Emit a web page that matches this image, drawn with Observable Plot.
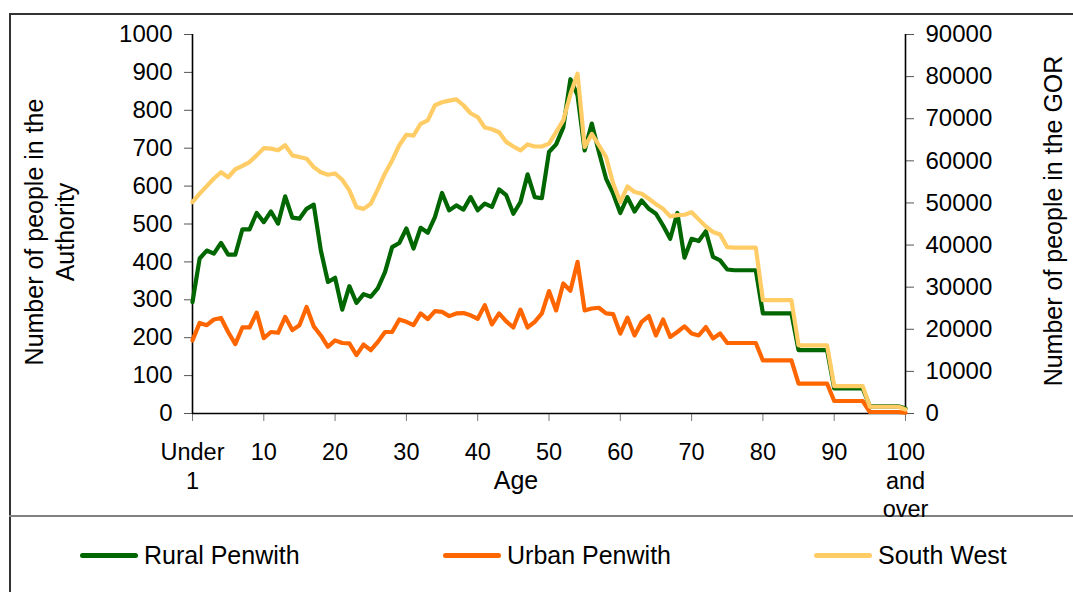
<!DOCTYPE html>
<html><head><meta charset="utf-8">
<script src="https://cdn.jsdelivr.net/npm/d3@7"></script>
<script src="https://cdn.jsdelivr.net/npm/@observablehq/plot@0.6"></script>
<style>
body{margin:0;background:#fff;font-family:"Liberation Sans",Arial,sans-serif;overflow:hidden;}
#frame{position:absolute;left:9px;top:13px;width:1100px;height:620px;border-left:2px solid #333;border-top:2px solid #333;}
#sep{position:absolute;left:9px;top:515px;width:1100px;border-top:2px solid #808080;}
#chart{position:absolute;left:0;top:0;}
#legend{position:absolute;top:0;left:0;width:1073px;height:592px;font-size:25px;color:#000;pointer-events:none;}
.item{position:absolute;top:537px;height:36px;display:flex;align-items:center;white-space:nowrap;}
.sw{display:inline-block;width:58px;height:5px;border-radius:3px;margin-right:6px;}
</style></head>
<body>
<div id="frame"></div>
<div id="sep"></div>
<div id="chart"></div>
<div id="legend"></div>
<script>
// Age categories (0 = "Under 1", 100 = "100 and over")
const ages = d3.range(0, 101);
const seriesNames = ["Rural Penwith", "Urban Penwith", "South West"];
const seriesColors = ["#006600", "#FF6600", "#FFCC66"];

// Rural Penwith (left axis)
const rural = [
 294, 409, 430, 422, 450, 419, 419, 486, 486, 529,
 505, 533, 501, 573, 517, 514, 540, 551, 430, 347,
 358, 274, 336, 292, 315, 308, 331, 373, 439, 450,
 488, 435, 490, 477, 518, 582, 536, 549, 538, 571,
 536, 554, 545, 591, 576, 527, 558, 631, 571, 568,
 690, 710, 755, 882, 840, 694, 765, 690, 620, 580,
 529, 571, 533, 562, 540, 527, 496, 461, 529, 411,
 461, 455, 481, 413, 404, 380, 378, 378, 378, 378,
 264, 264, 264, 264, 264, 167, 167, 167, 167, 167,
 66, 66, 66, 66, 66, 19, 19, 19, 19, 19,
 13];

// Urban Penwith (left axis)
const urban = [
 193, 239, 233, 248, 252, 215, 183, 227, 227, 266,
 199, 215, 213, 255, 220, 233, 281, 230, 206, 176,
 193, 186, 185, 154, 182, 167, 189, 215, 215, 248,
 242, 233, 264, 249, 270, 268, 257, 264, 265, 259,
 250, 286, 235, 264, 243, 227, 274, 227, 242, 264,
 323, 272, 343, 324, 400, 272, 277, 279, 264, 262,
 211, 253, 206, 242, 257, 206, 248, 202, 215, 230,
 211, 206, 228, 198, 211, 186, 186, 186, 186, 186,
 140, 140, 140, 140, 140, 79, 79, 79, 79, 79,
 33, 33, 33, 33, 33, 4, 4, 4, 4, 4,
 2];

// South West (right axis, GOR)
const southWest = [
 50200, 52200, 54000, 55800, 57300, 56100, 58000, 58800, 59700, 61300,
 63000, 62900, 62500, 63700, 61300, 60900, 60500, 58500, 57300, 56700,
 57000, 55500, 53000, 49000, 48600, 49800, 53300, 57000, 60100, 63700,
 66200, 66000, 68800, 69600, 73200, 73900, 74300, 74600, 73200, 71300,
 70400, 67900, 67500, 66800, 64500, 63400, 62500, 63900, 63400, 63400,
 64100, 66800, 69600, 75800, 80700, 63300, 66400, 63700, 60900, 54600,
 50200, 53900, 52600, 52200, 51000, 49700, 48600, 46800, 47100, 47200,
 47800, 46100, 44400, 43100, 42500, 39500, 39400, 39400, 39400, 39400,
 26900, 26900, 26900, 26900, 26900, 16200, 16200, 16200, 16200, 16200,
 6500, 6500, 6500, 6500, 6500, 1600, 1600, 1600, 1600, 1600,
 950];

const leftTicks = d3.range(0, 1001, 100);
const rightTicks = d3.range(0, 90001, 10000);
const xTicks = d3.range(0, 101, 10);
const ratio = 90; // right axis max 90000 vs left 1000

const table = ages.map((a, i) => ({age: a, rural: rural[i], urban: urban[i], sw: southWest[i] / ratio}));

const xFmt = d => d === 0 ? "Under\n1" : d === 100 ? "100\nand\nover" : String(d);
const lineOpts = {strokeWidth: 4.2, strokeLinejoin: "round", strokeLinecap: "round"};

const chart = Plot.plot({
  width: 1073, height: 516,
  marginLeft: 192, marginRight: 168, marginTop: 34, marginBottom: 103,
  x: {domain: [0, 100]},
  y: {domain: [0, 1000]},
  style: {fontFamily: "'Liberation Sans', Arial, sans-serif", fontSize: "23px", color: "#000", background: "transparent", overflow: "visible"},
  marks: [
    Plot.axisY({ticks: leftTicks, tickFormat: d => String(d), tickSize: 8, tickPadding: 12, label: null, stroke: "#555", fontSize: 24, fill: "#000"}),
    Plot.axisY({anchor: "right", ticks: rightTicks.map(v => v / ratio), tickFormat: d => String(Math.round(d * ratio)), tickSize: 8, tickPadding: 12, label: null, stroke: "#555", fontSize: 24, fill: "#000"}),
    Plot.axisX({ticks: xTicks, tickFormat: xFmt, tickSize: 8, tickPadding: 18, label: null, stroke: "#777", fontSize: 23.5, fill: "#000", lineHeight: 1.22}),
    Plot.ruleX([0, 100], {stroke: "#000", strokeWidth: 1.6}),
    Plot.ruleY([0], {stroke: "#000", strokeWidth: 1.6}),
    Plot.line(table, {x: "age", y: "rural", stroke: seriesColors[0], ...lineOpts}),
    Plot.line(table, {x: "age", y: "urban", stroke: seriesColors[1], ...lineOpts}),
    Plot.line(table, {x: "age", y: "sw", stroke: seriesColors[2], ...lineOpts}),
    Plot.text(["Number of people in the\nAuthority"], {frameAnchor: "left", textAnchor: "middle", lineAnchor: "middle", rotate: -90, dx: -144, dy: 8, fontSize: 25, lineHeight: 1.25, fill: "#000"}),
    Plot.text(["Number of people in the GOR"], {frameAnchor: "right", textAnchor: "middle", lineAnchor: "middle", rotate: -90, dx: 148, dy: -3, fontSize: 25, fill: "#000"}),
    Plot.text(["Age"], {frameAnchor: "bottom", textAnchor: "middle", lineAnchor: "middle", dx: -33, dy: 67, fontSize: 25, fill: "#000"})
  ]
});
document.getElementById("chart").appendChild(chart);

// Legend
const legendPos = [80, 443, 814];
const legend = document.getElementById("legend");
seriesNames.forEach((name, i) => {
  const it = document.createElement("div");
  it.className = "item";
  it.style.left = legendPos[i] + "px";
  const sw = document.createElement("span");
  sw.className = "sw";
  sw.style.background = seriesColors[i];
  const tx = document.createElement("span");
  tx.textContent = name;
  it.appendChild(sw); it.appendChild(tx);
  legend.appendChild(it);
});
</script>
</body></html>
